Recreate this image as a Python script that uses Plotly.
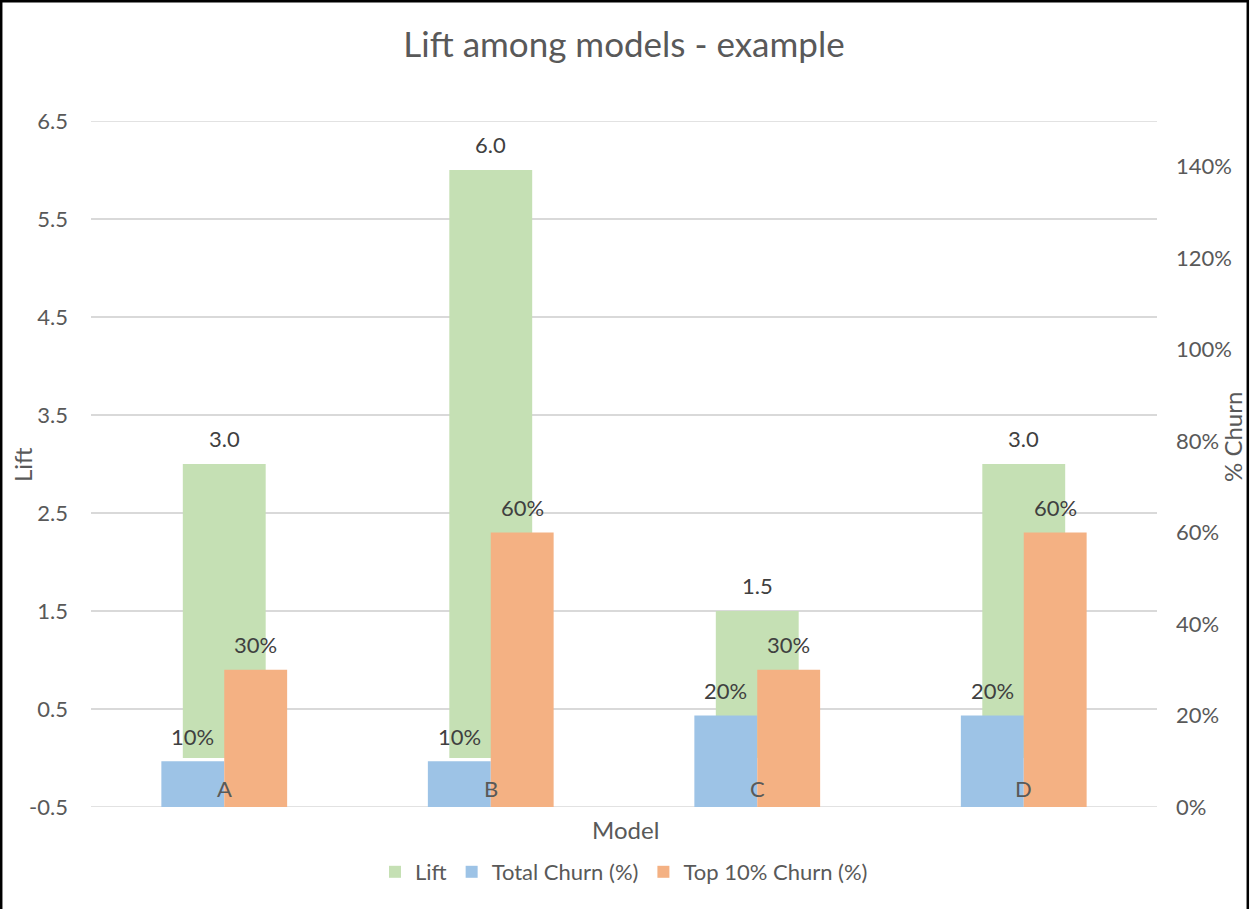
import plotly.graph_objects as go

# Chart data
models = ["A", "B", "C", "D"]
lift = [3.0, 6.0, 1.5, 3.0]
total_churn = [0.10, 0.10, 0.20, 0.20]
top10_churn = [0.30, 0.60, 0.30, 0.60]

lift_ticks = [-0.5, 0.5, 1.5, 2.5, 3.5, 4.5, 5.5, 6.5]
churn_ticks = [0.0, 0.2, 0.4, 0.6, 0.8, 1.0, 1.2, 1.4]

GREEN = "#C5E0B4"
BLUE = "#9DC3E6"
ORANGE = "#F4B183"
TXT = "#595959"
LBL = "#404040"
GRID = "#D9D9D9"
FONT = "Lato, 'Open Sans', sans-serif"
FS = 22

W, H = 1250, 909
ML, MR, MT, MB = 91, 93, 121, 102
PW, PH = W - ML - MR, H - MT - MB


def px_x(px):
    return (px - ML) / PW


def px_y(py):
    return (H - MB - py) / PH


xs = list(range(len(models)))
bw_side = 0.236
bw_lift = 0.311

fig = go.Figure()
fig.add_trace(go.Bar(
    x=xs, y=lift, name="Lift", marker=dict(color=GREEN, line=dict(width=0)),
    width=bw_lift, offset=-bw_lift / 2, yaxis="y",
))
fig.add_trace(go.Bar(
    x=xs, y=total_churn, name="Total Churn (%)", marker=dict(color=BLUE, line=dict(width=0)),
    width=bw_side, offset=-bw_side, yaxis="y2",
))
fig.add_trace(go.Bar(
    x=xs, y=top10_churn, name="Top 10% Churn (%)", marker=dict(color=ORANGE, line=dict(width=0)),
    width=bw_side, offset=0, yaxis="y2",
))

annotations = []
label_font = dict(family=FONT, size=FS, color=LBL)
for i, m in enumerate(models):
    annotations.append(dict(x=i, y=lift[i], xref="x", yref="y", text=f"{lift[i]:.1f}",
                            xanchor="center", yanchor="middle",
                            showarrow=False, yshift=26, font=label_font))
    annotations.append(dict(x=i - bw_side / 2, y=total_churn[i], xref="x", yref="y2",
                            xanchor="center", yanchor="middle",
                            text=f"{total_churn[i]:.0%}", showarrow=False, yshift=25, font=label_font))
    annotations.append(dict(x=i + bw_side / 2, y=top10_churn[i], xref="x", yref="y2",
                            xanchor="center", yanchor="middle",
                            text=f"{top10_churn[i]:.0%}", showarrow=False, yshift=25, font=label_font))
    # category label sits inside the plot, just below the lift zero line
    annotations.append(dict(x=i, y=-0.316, xref="x", yref="y", text=m, showarrow=False,
                            xanchor="center", yanchor="middle",
                            font=dict(family=FONT, size=FS, color=TXT)))

# axis titles
title_font = dict(family=FONT, size=24, color=TXT)
annotations.append(dict(x=px_x(22), y=px_y(465), xref="paper", yref="paper", text="Lift",
                        xanchor="center", yanchor="middle",
                        textangle=-90, showarrow=False, font=title_font))
annotations.append(dict(x=px_x(1232), y=px_y(437), xref="paper", yref="paper", text="% Churn",
                        xanchor="center", yanchor="middle",
                        textangle=-90, showarrow=False, font=title_font))
annotations.append(dict(x=px_x(625), y=px_y(829), xref="paper", yref="paper", text="Model",
                        xanchor="center", yanchor="middle",
                        showarrow=False, font=title_font))

# gridlines at the two ends of the lift axis
edge_lines = [dict(type="line", xref="paper", yref="y", x0=0, x1=1, y0=v, y1=v,
                   line=dict(color=GRID, width=1.5), layer="below")
              for v in (lift_ticks[0], lift_ticks[-1])]

border = dict(type="rect", xref="paper", yref="paper",
              x0=px_x(1.2), x1=px_x(1247.8), y0=px_y(940), y1=px_y(1.2),
              line=dict(color="black", width=2.5), fillcolor="rgba(0,0,0,0)", layer="above")

fig.update_layout(
    width=W, height=H,
    margin=dict(l=ML, r=MR, t=MT, b=MB),
    paper_bgcolor="white", plot_bgcolor="white",
    barmode="overlay",
    title=dict(text="Lift among models - example", x=0.5, xref="paper", xanchor="center",
               y=1 - 45 / H, yanchor="middle", font=dict(family=FONT, size=35, color=TXT)),
    font=dict(family=FONT, size=FS, color=TXT),
    xaxis=dict(range=[-0.5, len(models) - 0.5], showticklabels=False, showgrid=False,
               zeroline=False, showline=False, ticks=""),
    yaxis=dict(range=[-0.5, 6.5], tickvals=lift_ticks, ticktext=[f"{v:.1f}" for v in lift_ticks],
               showgrid=True, gridcolor=GRID, gridwidth=1.5, zeroline=False, showline=False,
               ticks="", ticklabelstandoff=22, tickfont=dict(family=FONT, size=FS, color=TXT)),
    yaxis2=dict(range=[0, 1.5], tickvals=churn_ticks, tickformat=".0%", overlaying="y", side="right",
                showgrid=False, zeroline=False, showline=False, ticks="", ticklabelstandoff=18,
                tickfont=dict(family=FONT, size=FS, color=TXT)),
    legend=dict(orientation="h", x=0.5, xanchor="center", y=px_y(872), yanchor="middle",
                font=dict(family=FONT, size=FS, color=TXT), bgcolor="rgba(0,0,0,0)"),
    annotations=annotations,
    shapes=edge_lines + [border],
)

fig.write_html("out.html")
